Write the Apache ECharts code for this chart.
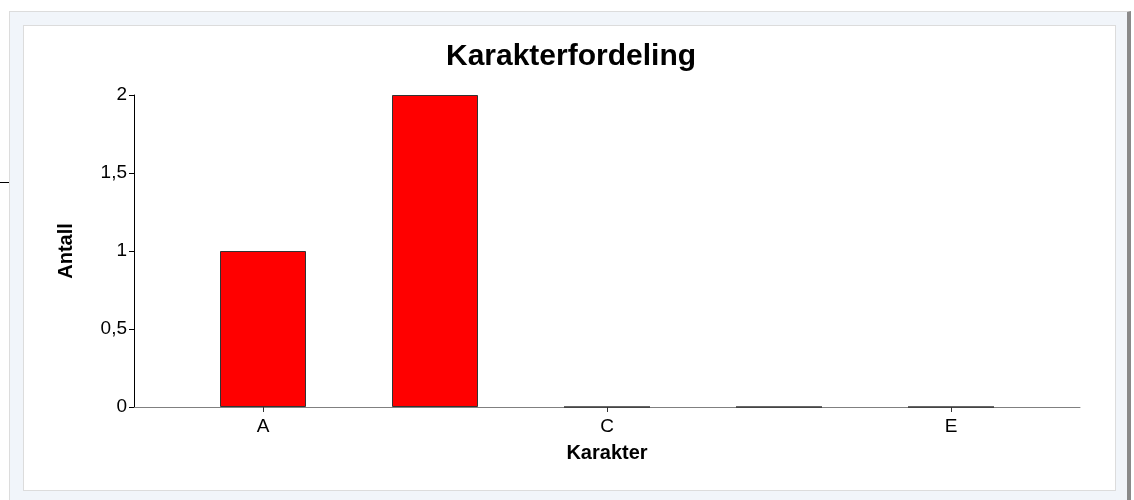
<!DOCTYPE html>
<html><head><meta charset="utf-8">
<script src="https://cdn.jsdelivr.net/npm/echarts@6/dist/echarts.min.js"></script>
<style>
body{margin:0;background:#fff;width:1134px;height:500px;overflow:hidden;position:relative;font-family:"Liberation Sans",Arial,sans-serif}
#outer{position:absolute;left:9px;top:11px;width:1122px;height:495px;background:#f1f5fa;border:1px solid #dcdcdc;border-right:4px solid #8a8a8a;box-sizing:border-box}
#inner{position:absolute;left:23px;top:25px;width:1093px;height:466px;background:#fff;border:1px solid #dcdcdc;box-sizing:border-box}
#mark{position:absolute;left:0;top:182px;width:9px;height:1px;background:#000}
#chart{position:absolute;left:0;top:0;width:1134px;height:500px}
</style></head>
<body>
<div id="outer"></div><div id="inner"></div><div id="mark"></div>
<div id="chart"></div>
<script>
const title = 'Karakterfordeling';
const xName = 'Karakter';
const yName = 'Antall';
const categories = ['A', 'B', 'C', 'D', 'E'];
const counts = [1, 2, 0, 0, 0];
const shownLabels = ['A', 'C', 'E'];
const yTicks = [0, 0.5, 1, 1.5, 2];

const chart = echarts.init(document.getElementById('chart'), null, {renderer: 'canvas'});
const font = '"Liberation Sans", Arial, sans-serif';
const labelIdx = shownLabels.map(l => categories.indexOf(l));
chart.setOption({
  backgroundColor: 'transparent',
  animation: false,
  title: {
    text: title, left: 566, top: 37, textAlign: 'center',
    textStyle: {fontFamily: font, fontSize: 30, fontWeight: 'bold', color: '#000'}
  },
  grid: {left: 134, right: 54, top: 95, bottom: 93, containLabel: false},
  xAxis: {
    type: 'value', min: -0.75, max: categories.length - 0.25,
    name: xName, nameLocation: 'middle', nameGap: 36,
    nameTextStyle: {fontFamily: font, fontSize: 20, fontWeight: 'bold', color: '#000'},
    axisLine: {show: true, onZero: false, lineStyle: {color: '#808080', width: 1}},
    axisTick: {show: true, customValues: labelIdx, length: 5, lineStyle: {color: '#333'}},
    axisLabel: {customValues: labelIdx, formatter: v => categories[Math.round(v)], fontFamily: font, fontSize: 19, color: '#000', margin: 10},
    splitLine: {show: false}
  },
  yAxis: {
    type: 'value', min: yTicks[0], max: yTicks[yTicks.length - 1], interval: 0.5,
    name: yName, nameLocation: 'middle', nameGap: 58, nameRotate: 90,
    nameTextStyle: {fontFamily: font, fontSize: 20, fontWeight: 'bold', color: '#000'},
    axisLine: {show: true, onZero: false, lineStyle: {color: '#000', width: 1}},
    axisTick: {show: true, length: 5, lineStyle: {color: '#000'}},
    axisLabel: {formatter: v => String(v).replace('.', ','), fontFamily: font, fontSize: 19, color: '#000', margin: 7},
    splitLine: {show: false}
  },
  series: [{
    type: 'bar',
    data: categories.map((c, i) => [i, counts[i]]),
    barWidth: 86,
    itemStyle: {color: '#ff0000', borderColor: '#333', borderWidth: 1}
  }]
});
</script>
</body></html>
